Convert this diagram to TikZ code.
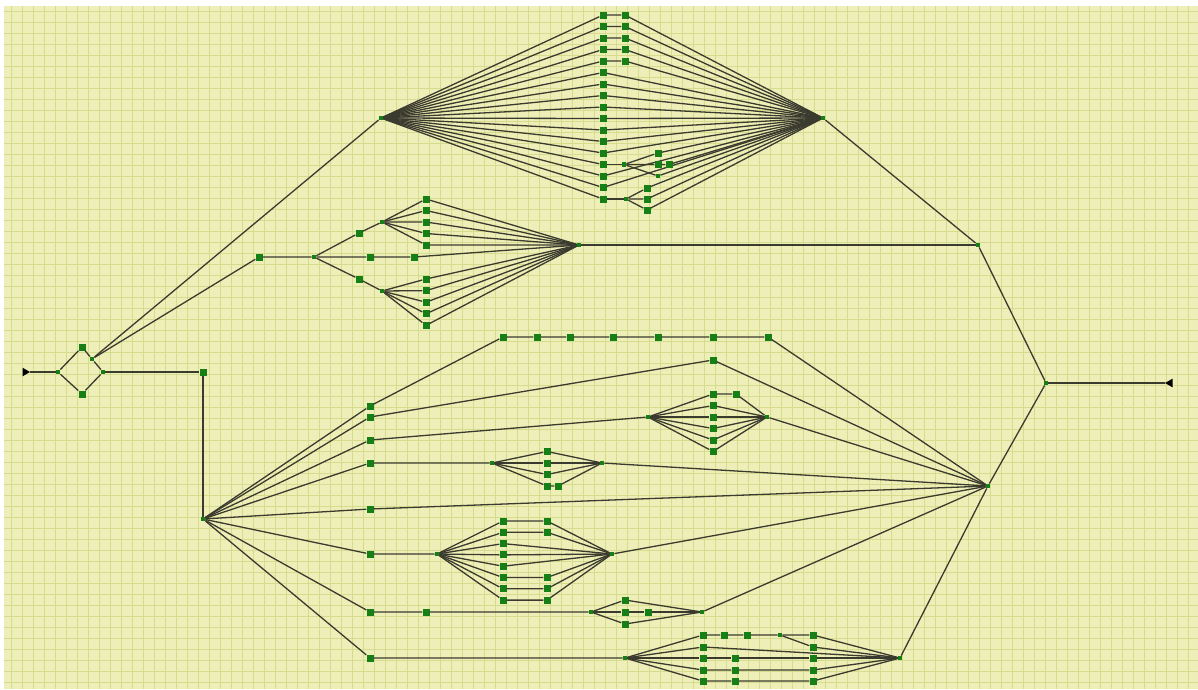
\documentclass[tikz,border=0pt]{standalone}
\usetikzlibrary{shapes.geometric}
\definecolor{paper}{RGB}{238,239,184}
\definecolor{gridline}{RGB}{214,220,142}
\definecolor{leaf}{RGB}{22,128,22}
\definecolor{wire}{RGB}{58,58,46}

\begin{document}
\begin{tikzpicture}[
  x=1pt, y=-1pt,
  sq/.style={rectangle, fill=leaf, minimum size=7pt, inner sep=0pt},
  jn/.style={rectangle, fill=leaf, minimum size=4.5pt, inner sep=0pt},
  term/.style={regular polygon, regular polygon sides=3, fill=black, minimum size=10pt, inner sep=0pt},
  link/.style={draw=wire, line width=1.3pt}
]
\useasboundingbox (0,0) rectangle (1198,689);
\fill[white] (0,0) rectangle (1198,689);
\fill[paper] (4,6) rectangle (1198,689);
\draw[gridline, line width=0.9pt, step=11pt] (4,6) grid (1198,689);

\node[term, shape border rotate=-90] (start) at (25,372) {};
\node[jn] (split) at (58,372) {};
\node[sq] (dtop) at (82,347) {};
\node[sq] (dbot) at (82,394) {};
\node[jn] (fork) at (92,359) {};
\node[jn] (merge) at (103,372) {};
\node[sq] (bend) at (203,372) {};
\node[jn] (hub) at (203,519) {};

\node[jn] (r1) at (978,245) {};
\node[jn] (sink) at (988,486) {};
\node[jn] (fin) at (1046,383) {};
\node[term, shape border rotate=90] (stop) at (1170,383) {};

\draw[link] (start) -- (split);
\draw[link] (split) -- (dtop) -- (fork) -- (merge);
\draw[link] (split) -- (dbot) -- (merge);
\draw[link] (merge) -- (bend) -- (hub);
\draw[link] (r1) -- (fin);
\draw[link] (sink) -- (fin);
\draw[link] (fin) -- (stop);

\node[jn] (tl) at (381,118) {};
\node[jn] (tr) at (823,118) {};
\foreach \i in {1,...,17} {
  \node[sq] (t\i) at (603,{3.5+11.5*\i}) {};
  \draw[link] (tl) -- (t\i);
}
\foreach \i in {1,...,5} {
  \node[sq] (u\i) at (625,{3.5+11.5*\i}) {};
  \draw[link] (t\i) -- (u\i) -- (tr);
}
\foreach \i in {6,...,13,15,16}
  \draw[link] (t\i) -- (tr);
\node[jn] (k14) at (624,164.5) {};
\node[sq] (v1) at (658,153) {};
\node[sq] (v2) at (658,164.5) {};
\node[sq] (v3) at (669,164.5) {};
\node[jn] (v4) at (658,176) {};
\draw[link] (t14) -- (k14);
\draw[link] (k14) -- (v1) -- (tr);
\draw[link] (k14) -- (v2) -- (v3) -- (tr);
\draw[link] (k14) -- (v4) -- (tr);
\node[jn] (k17) at (626,199) {};
\draw[link] (t17) -- (k17);
\foreach \i/\y in {1/188,2/199,3/210} {
  \node[sq] (w\i) at (647,\y) {};
  \draw[link] (k17) -- (w\i) -- (tr);
}
\draw[link] (fork) -- (tl);
\draw[link] (tr) -- (r1);

\node[sq] (m0) at (259,257) {};
\node[jn] (m1) at (314,257) {};
\node[sq] (ma) at (359,233) {};
\node[jn] (mak) at (382,222) {};
\node[sq] (mb) at (370,257) {};
\node[sq] (mb2) at (414,257) {};
\node[sq] (mc) at (359,279) {};
\node[jn] (mck) at (382,291) {};
\node[jn] (mr) at (579,245) {};
\draw[link] (fork) -- (m0) -- (m1);
\draw[link] (m1) -- (ma) -- (mak);
\draw[link] (m1) -- (mb) -- (mb2) -- (mr);
\draw[link] (m1) -- (mc) -- (mck);
\foreach \i in {0,...,4} {
  \node[sq] (mu\i) at (426,{199+11.5*\i}) {};
  \node[sq] (ml\i) at (426,{279+11.6*\i}) {};
  \draw[link] (mak) -- (mu\i) -- (mr);
  \draw[link] (mck) -- (ml\i) -- (mr);
}
\draw[link] (mr) -- (r1);

\node[sq] (a0) at (370,406) {};
\foreach \i/\x in {1/503,2/537,3/570,4/613,5/658,6/713,7/768}
  \node[sq] (a\i) at (\x,337) {};
\draw[link] (hub) -- (a0) -- (a1) -- (a2) -- (a3) -- (a4) -- (a5) -- (a6) -- (a7) -- (sink);

\node[sq] (b0) at (370,417) {};
\node[sq] (b1) at (713,360) {};
\draw[link] (hub) -- (b0) -- (b1) -- (sink);

\node[sq] (c0) at (370,440) {};
\node[jn] (c1) at (648,417) {};
\node[sq] (cx) at (736,394) {};
\node[jn] (cr) at (767,417) {};
\draw[link] (hub) -- (c0) -- (c1);
\foreach \i in {0,...,5}
  \node[sq] (cc\i) at (713,{394+11.5*\i}) {};
\draw[link] (c1) -- (cc0) -- (cx) -- (cr);
\foreach \i in {1,...,5}
  \draw[link] (c1) -- (cc\i) -- (cr);
\draw[link] (cr) -- (sink);

\node[sq] (d0) at (370,463) {};
\node[jn] (d1) at (492,463) {};
\node[sq] (dx) at (558,486) {};
\node[jn] (dr) at (602,463) {};
\draw[link] (hub) -- (d0) -- (d1);
\foreach \i in {0,...,3}
  \node[sq] (dd\i) at (547,{451.5+11.5*\i}) {};
\foreach \i in {0,...,2}
  \draw[link] (d1) -- (dd\i) -- (dr);
\draw[link] (d1) -- (dd3) -- (dx) -- (dr);
\draw[link] (dr) -- (sink);

\node[sq] (e0) at (370,509) {};
\draw[link] (hub) -- (e0) -- (sink);

\node[sq] (f0) at (370,554) {};
\node[jn] (f1) at (437,554) {};
\node[jn] (fr) at (612,554) {};
\draw[link] (hub) -- (f0) -- (f1);
\foreach \i in {0,...,7}
  \node[sq] (ff\i) at (503,{521+11.3*\i}) {};
\foreach \i in {2,3,4}
  \draw[link] (f1) -- (ff\i) -- (fr);
\foreach \i in {0,1,5,6,7} {
  \node[sq] (fg\i) at (547,{521+11.3*\i}) {};
  \draw[link] (f1) -- (ff\i) -- (fg\i) -- (fr);
}
\draw[link] (fr) -- (sink);

\node[sq] (g0) at (370,612) {};
\node[sq] (g1) at (426,612) {};
\node[jn] (g2) at (591,612) {};
\node[sq] (gx) at (648,612) {};
\node[jn] (gr) at (702,612) {};
\draw[link] (hub) -- (g0) -- (g1) -- (g2);
\foreach \i/\y in {0/600,1/612,2/624}
  \node[sq] (gg\i) at (625,\y) {};
\draw[link] (g2) -- (gg0) -- (gr);
\draw[link] (g2) -- (gg1) -- (gx) -- (gr);
\draw[link] (g2) -- (gg2) -- (gr);
\draw[link] (gr) -- (sink);

\node[sq] (h0) at (370,658) {};
\node[jn] (h1) at (625,658) {};
\node[jn] (hr) at (900,658) {};
\draw[link] (hub) -- (h0) -- (h1);
\node[sq] (ha1) at (703,635) {};
\node[sq] (ha2) at (724,635) {};
\node[sq] (ha3) at (747,635) {};
\node[jn] (ha4) at (780,635) {};
\node[sq] (ha5) at (813,635) {};
\node[sq] (hb1) at (703,647) {};
\node[sq] (hb5) at (813,647) {};
\draw[link] (h1) -- (ha1) -- (ha2) -- (ha3) -- (ha4) -- (ha5) -- (hr);
\draw[link] (ha4) -- (hb5) -- (hr);
\draw[link] (h1) -- (hb1) -- (hr);
\foreach \i/\y in {3/658,4/670,5/681} {
  \node[sq] (hc\i) at (703,\y) {};
  \node[sq] (hd\i) at (735,\y) {};
  \node[sq] (he\i) at (813,\y) {};
  \draw[link] (h1) -- (hc\i) -- (hd\i) -- (he\i) -- (hr);
}
\draw[link] (hr) -- (sink);
\end{tikzpicture}
\end{document}
